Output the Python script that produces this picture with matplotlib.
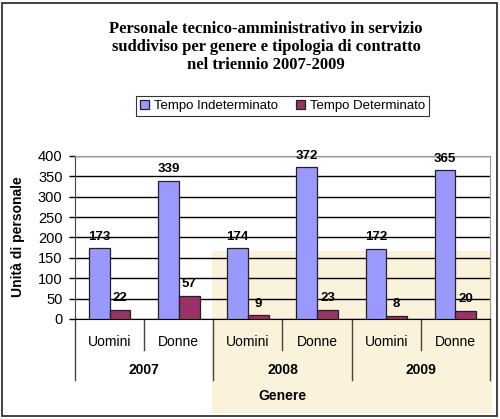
import matplotlib.pyplot as plt
from matplotlib.patches import Rectangle
from matplotlib.transforms import blended_transform_factory

# Data
anni = ['2007', '2008', '2009']
genere = ['Uomini', 'Donne'] * 3
indeterminato = [173, 339, 174, 372, 172, 365]
determinato = [22, 57, 9, 23, 8, 20]

plt.rcParams['font.family'] = ['Liberation Sans', 'DejaVu Sans']

fig = plt.figure(figsize=(5, 4.19), dpi=100)

# yellow background behind the lower right part
fig.patches.append(Rectangle((0.424, 0.0143), 0.56, 0.3866, transform=fig.transFigure,
                             facecolor='#FBF2DC', edgecolor='none', zorder=-1))
# outer border
fig.patches.append(Rectangle((0.004, 0.006), 0.99, 0.988, transform=fig.transFigure,
                             facecolor='none', edgecolor='#333333', linewidth=1.3, zorder=5))

ax = fig.add_axes([0.15, 0.2387, 0.83, 0.389])
ax.set_facecolor('none')

x = list(range(len(genere)))
w = 0.3
b1 = ax.bar([i - w / 2 for i in x], indeterminato, w, color='#9999FF', edgecolor='#222222',
            linewidth=0.9, label='Tempo Indeterminato', zorder=3)
b2 = ax.bar([i + w / 2 for i in x], determinato, w, color='#993366', edgecolor='#222222',
            linewidth=0.9, label='Tempo Determinato', zorder=3)

for bars, vals in ((b1, indeterminato), (b2, determinato)):
    for r, v in zip(bars, vals):
        ax.annotate(str(v), (r.get_x() + r.get_width() / 2, v), xytext=(0, 4),
                    textcoords='offset points', ha='center', va='bottom',
                    fontsize=9.5, fontweight='bold')

ax.set_ylim(0, 400)
ax.set_xlim(-0.5, 5.5)
ax.set_yticks(range(0, 401, 50))
ax.tick_params(axis='y', labelsize=10.5, length=4, width=1, pad=5)
ax.set_xticks([])
ax.yaxis.grid(True, color='black', linewidth=1, zorder=1)
ax.spines['top'].set_color('#999999')
ax.spines['right'].set_color('#999999')
ax.spines['left'].set_color('#444444')
ax.spines['bottom'].set_color('black')

# multi-level category axis
tr = blended_transform_factory(ax.transData, ax.transAxes)
for s in (0.5, 2.5, 4.5):
    ax.plot([s, s], [0, -0.19], transform=tr, color='#444444', lw=1, clip_on=False)
for s in (-0.5, 1.5, 3.5, 5.5):
    ax.plot([s, s], [0, -0.374], transform=tr, color='#444444', lw=1, clip_on=False)
for i, g in enumerate(genere):
    ax.text(i, -0.14, g, transform=tr, ha='center', va='center', fontsize=10)
for j, a in enumerate(anni):
    ax.text(2 * j + 0.5, -0.315, a, transform=tr, ha='center', va='center',
            fontsize=10, fontweight='bold')

ax.text(0.5, -0.475, 'Genere', transform=ax.transAxes, ha='center', va='center',
        fontsize=10, fontweight='bold')
fig.text(0.036, 0.435, 'Unità di personale', rotation=90, ha='center', va='center',
         fontsize=10, fontweight='bold')

fig.text(0.532, 0.888, 'Personale tecnico-amministrativo in servizio\n'
         'suddiviso per genere e tipologia di contratto\nnel triennio 2007-2009',
         ha='center', va='center', fontsize=12, fontweight='bold',
         family='Liberation Serif', linespacing=1.2)

leg = ax.legend(loc='center', bbox_to_anchor=(0.565, 0.7465), bbox_transform=fig.transFigure,
                ncol=2, fontsize=9.5, frameon=True, fancybox=False, handlelength=0.7,
                handleheight=0.7, columnspacing=1.3, handletextpad=0.4,
                borderpad=0.3)
leg.get_frame().set_edgecolor('black')
leg.get_frame().set_linewidth(0.8)

fig.savefig('out.png', dpi=100)
